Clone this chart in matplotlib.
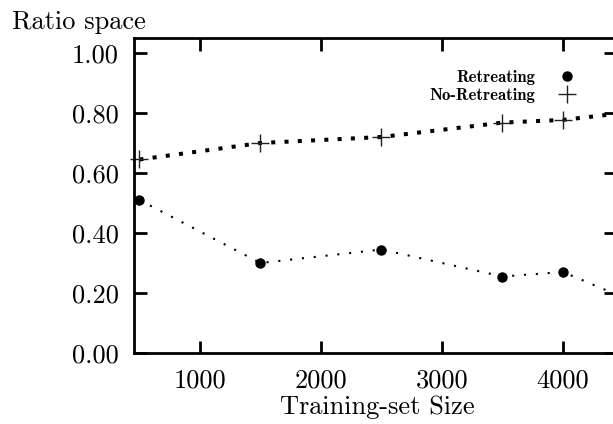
import matplotlib
matplotlib.use('Agg')
import matplotlib.pyplot as plt

# training-set sizes and measured ratios
sizes = [500, 1500, 2500, 3500, 4000]
retreating = [0.51, 0.30, 0.345, 0.255, 0.27]
no_retreating = [0.645, 0.70, 0.72, 0.768, 0.777]

# the trend lines run on to the right border
line_x = [500, 1500, 2500, 3500, 4000, 4500]
retreating_line = [0.51, 0.30, 0.345, 0.255, 0.27, 0.185]
no_retreating_line = [0.645, 0.70, 0.72, 0.768, 0.777, 0.80]

xticks = [1000, 2000, 3000, 4000]
yticks = [0.0, 0.2, 0.4, 0.6, 0.8, 1.0]

plt.rcParams['font.family'] = 'cmr10'
plt.rcParams['axes.formatter.use_mathtext'] = True

fig = plt.figure(figsize=(6.13, 4.24), dpi=100)
ax = fig.add_axes([134 / 613, 71 / 424, 482 / 613, 315 / 424])

ax.plot(line_x, retreating_line, color='black', lw=1.5, linestyle=(0, (1, 4.7)))
ax.plot(line_x, no_retreating_line, color='black', lw=2.9, linestyle=(0, (1, 2.3)))
ax.plot(sizes, retreating, 'o', color='black', ms=6.5, label='Retreating', clip_on=False)
ax.plot(sizes, no_retreating, '+', color='#222222', ms=12.5, mew=1.0, label='No-Retreating', clip_on=False)

ax.set_xlim(455, 4438)
ax.set_ylim(0, 1.05)
ax.set_xticks(xticks)
ax.set_xticklabels([str(t) for t in xticks])
ax.set_yticks(yticks)
ax.set_yticklabels(['%.2f' % t for t in yticks])
ax.tick_params(direction='in', length=9, width=2, labelsize=19, top=True, right=True, pad=11)
ax.tick_params(axis='x', pad=11.5)
for s in ax.spines.values():
    s.set_linewidth(2)

ax.set_xlabel('Training-set Size', fontsize=19)
ax.xaxis.set_label_coords(0.504, -0.134)
fig.text(12 / 613, 1 - 22 / 424, 'Ratio space', fontsize=19, va='center', ha='left')

ax.legend(loc='upper right', bbox_to_anchor=(575 / 613, 1 - 70 / 424), bbox_transform=fig.transFigure,
          frameon=False, markerfirst=False, borderpad=0, borderaxespad=0,
          prop={'family': 'cmb10', 'size': 12}, handlelength=1.0, handletextpad=1.4,
          labelspacing=0.2, numpoints=1)

fig.savefig('out.png', dpi=100)
